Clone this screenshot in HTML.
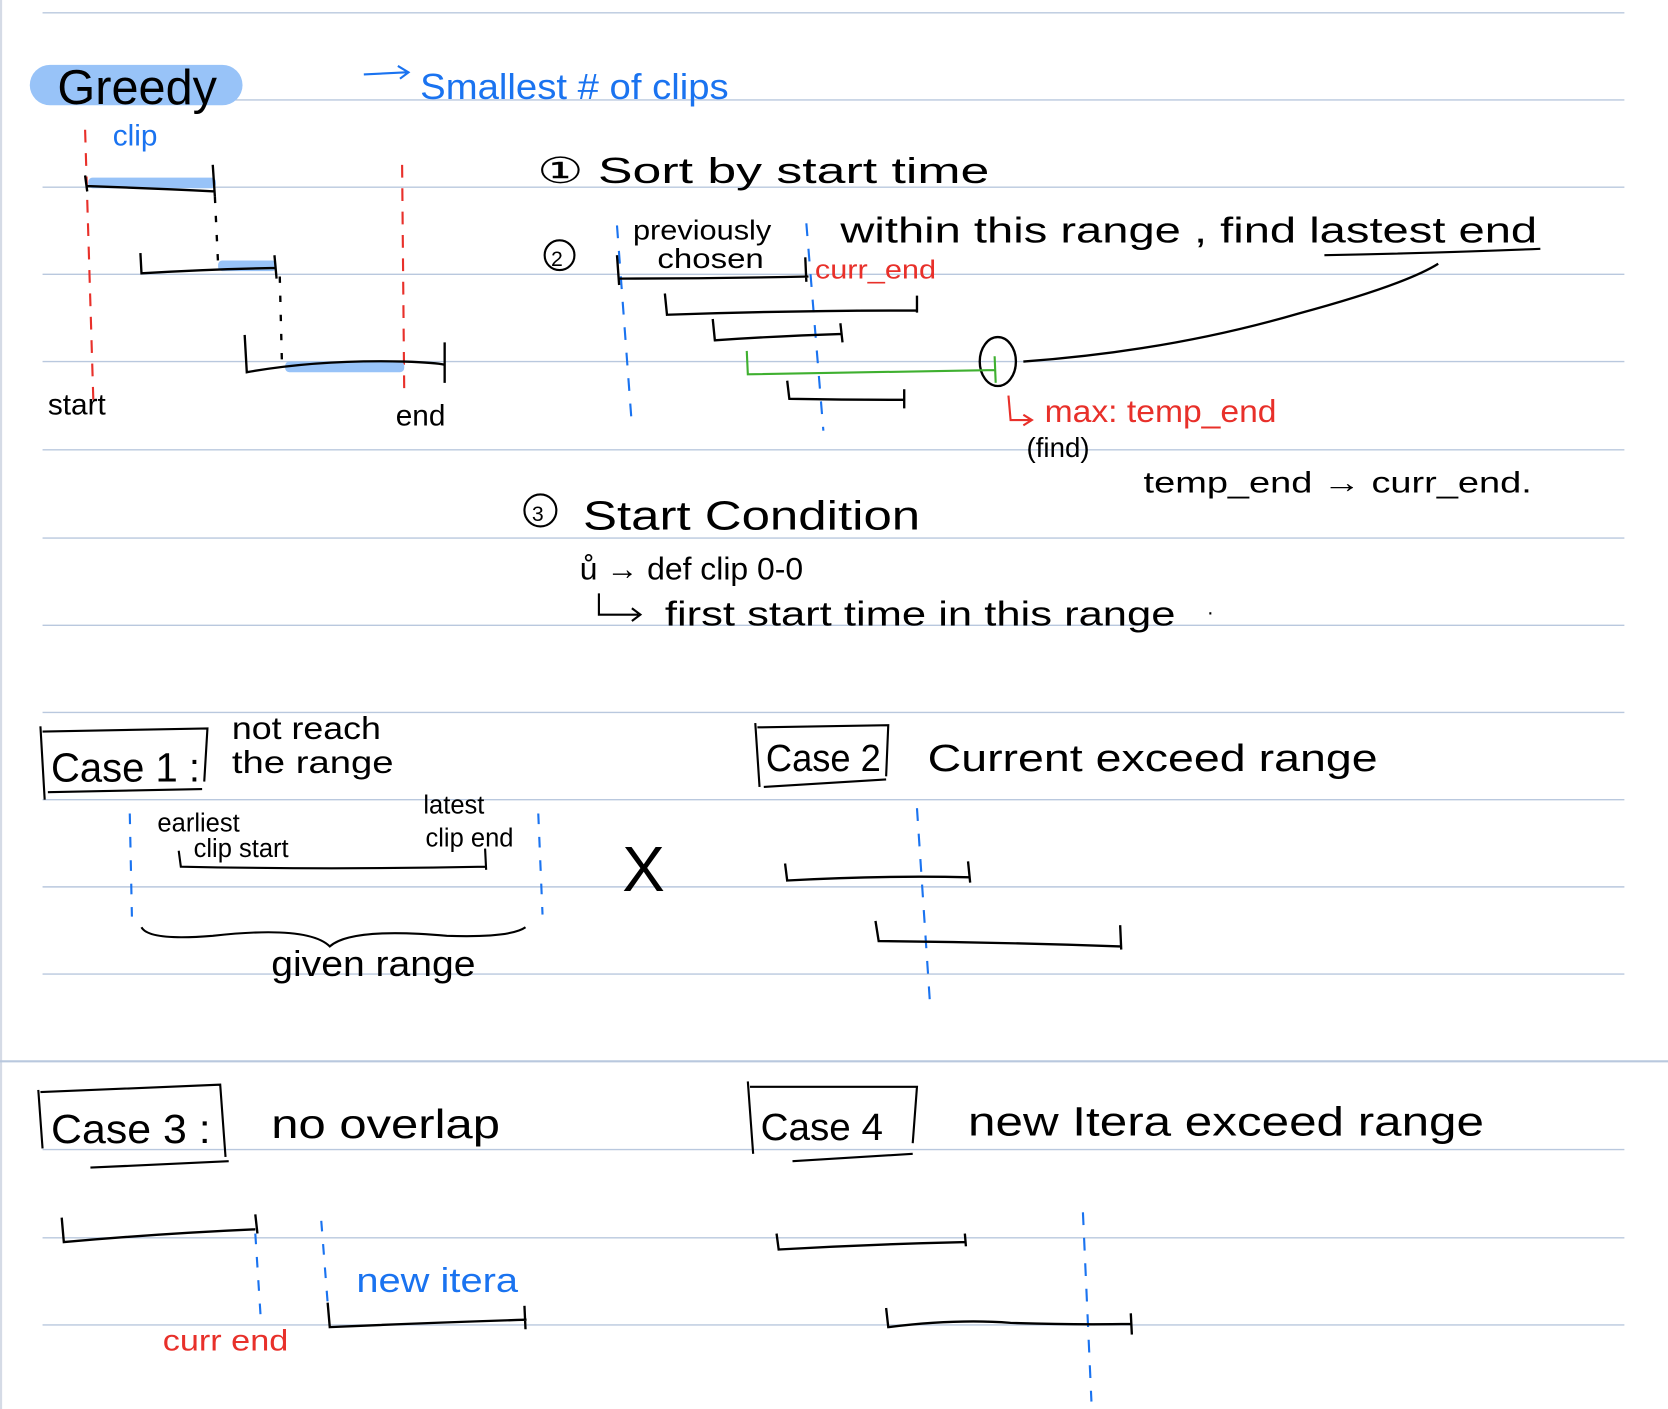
<!DOCTYPE html>
<html><head><meta charset="utf-8"><style>
html,body{margin:0;padding:0;background:#fff;}
svg{display:block;}
text{font-family:"Liberation Sans",sans-serif;}
</style></head><body>
<svg width="1668" height="1409" viewBox="0 0 1568 1325" preserveAspectRatio="none" xmlns="http://www.w3.org/2000/svg">
<rect width="1568" height="1325" fill="#fff"/>
<line x1="1" y1="0" x2="1" y2="1325" stroke="#d5dbe6" stroke-width="2"/>
<g stroke="#b9c8de" stroke-width="1.3">
<line x1="40" y1="12" x2="1527" y2="12"/><line x1="40" y1="94" x2="1527" y2="94"/>
<line x1="40" y1="176" x2="1527" y2="176"/><line x1="40" y1="258" x2="1527" y2="258"/>
<line x1="40" y1="340" x2="1527" y2="340"/><line x1="40" y1="423" x2="1527" y2="423"/>
<line x1="40" y1="506" x2="1527" y2="506"/><line x1="40" y1="588" x2="1527" y2="588"/>
<line x1="40" y1="670" x2="1527" y2="670"/><line x1="40" y1="752" x2="1527" y2="752"/>
<line x1="40" y1="834" x2="1527" y2="834"/><line x1="40" y1="916" x2="1527" y2="916"/>
<line x1="0" y1="998" x2="1568" y2="998" stroke-width="2"/>
<line x1="40" y1="1081" x2="1527" y2="1081"/><line x1="40" y1="1164" x2="1527" y2="1164"/>
<line x1="40" y1="1246" x2="1527" y2="1246"/>
</g>
<rect x="28" y="61" width="200" height="38" rx="19" fill="#98c3f8"/>
<text x="54" y="98" font-size="46" fill="#000" textLength="150" lengthAdjust="spacingAndGlyphs">Greedy</text>
<path d="M342 70 L382 68 M374 62 L384 68 L376 74" stroke="#1a73f0" stroke-width="2" fill="none"/>
<text x="395" y="93" font-size="34" fill="#1a73f0" textLength="290" lengthAdjust="spacingAndGlyphs">Smallest # of clips</text>
<text x="106" y="137" font-size="28" fill="#1a73f0">clip</text>
<g stroke="#e8302a" stroke-width="2" stroke-dasharray="12,10" fill="none">
<line x1="80" y1="122" x2="88" y2="385"/>
<line x1="378" y1="155" x2="380" y2="370"/>
</g>
<g fill="#98c3f8">
<rect x="83" y="167" width="120" height="10" rx="4"/>
<rect x="205" y="245" width="55" height="10" rx="4"/>
<rect x="268" y="340" width="112" height="10" rx="4"/>
</g>
<g stroke="#000" stroke-width="2.2" fill="none">
<path d="M80 165 L82 180 M82 175 Q140 177 202 180 M200 155 L202 185"/>
<path d="M132 238 L133 257 Q200 253 260 252 M258 240 L260 262"/>
<path d="M230 315 L232 350 Q300 338 380 340 Q410 341 418 343 M418 322 L418 360"/>
<path d="M202 185 L205 248 M263 260 L265 340" stroke-dasharray="6,12"/>
</g>
<text x="45" y="390" font-size="28">start</text>
<text x="372" y="400" font-size="28">end</text>
<text x="505" y="172" font-size="34" textLength="425" lengthAdjust="spacingAndGlyphs">① Sort by start time</text>
<circle cx="526" cy="240" r="14" stroke="#000" stroke-width="2" fill="none"/>
<text x="518" y="250" font-size="20">2</text>
<text x="595" y="225" font-size="26" textLength="130" lengthAdjust="spacingAndGlyphs">previously</text>
<text x="618" y="252" font-size="26" textLength="100" lengthAdjust="spacingAndGlyphs">chosen</text>
<text x="790" y="228" font-size="34" textLength="655" lengthAdjust="spacingAndGlyphs">within this range , find lastest end</text>
<path d="M1245 240 Q1350 238 1448 234" stroke="#000" stroke-width="2" fill="none"/>
<text x="766" y="262" font-size="24" fill="#e8302a" textLength="114" lengthAdjust="spacingAndGlyphs">curr_end</text>
<g stroke="#1a73f0" stroke-width="2" stroke-dasharray="12,12" fill="none">
<line x1="580" y1="212" x2="594" y2="400"/>
<line x1="758" y1="210" x2="774" y2="405"/>
</g>
<g stroke="#000" stroke-width="2.2" fill="none">
<path d="M580 240 L582 268 M582 262 Q670 262 760 260 M757 242 L758 265"/>
<path d="M625 276 L627 296 Q740 292 862 292 M862 278 L862 294"/>
<path d="M670 300 L672 320 Q730 316 792 314 M790 304 L792 322"/>
<path d="M740 358 L742 375 Q800 376 850 376 M850 366 L850 384"/>
<ellipse cx="938" cy="340" rx="17" ry="23"/>
<path d="M962 340 Q1100 330 1220 295 Q1320 268 1352 248"/>
</g>
<path d="M702 330 L703 352 Q820 350 935 348 M935 335 L936 360" stroke="#3fb030" stroke-width="2" fill="none"/>
<path d="M948 372 L950 395 L968 395 M962 390 L970 395 L962 400" stroke="#e8302a" stroke-width="2" fill="none"/>
<text x="982" y="397" font-size="30" fill="#e8302a" textLength="218" lengthAdjust="spacingAndGlyphs">max: temp_end</text>
<text x="965" y="430" font-size="26">(find)</text>
<text x="1075" y="463" font-size="28" textLength="365" lengthAdjust="spacingAndGlyphs">temp_end → curr_end.</text>
<circle cx="508" cy="480" r="15" stroke="#000" stroke-width="2" fill="none"/>
<text x="500" y="490" font-size="20">3</text>
<text x="548" y="498" font-size="38" textLength="317" lengthAdjust="spacingAndGlyphs">Start Condition</text>
<text x="545" y="545" font-size="30">ů → def clip 0-0</text>
<path d="M563 558 L563 578 L600 578 M594 572 L602 578 L594 584" stroke="#000" stroke-width="2" fill="none"/>
<text x="625" y="588" font-size="32" textLength="480" lengthAdjust="spacingAndGlyphs">first start time in this range</text>
<text x="1135" y="578" font-size="20">.</text>
<path d="M38 683 L42 752 M40 688 L195 685 L192 735 M45 745 L190 742" stroke="#000" stroke-width="2" fill="none"/>
<text x="48" y="735" font-size="38" textLength="140" lengthAdjust="spacingAndGlyphs">Case 1 :</text>
<text x="218" y="695" font-size="30" textLength="140" lengthAdjust="spacingAndGlyphs">not reach</text>
<text x="218" y="727" font-size="30" textLength="152" lengthAdjust="spacingAndGlyphs">the range</text>
<text x="148" y="782" font-size="24">earliest</text>
<text x="182" y="806" font-size="24">clip start</text>
<text x="398" y="765" font-size="24">latest</text>
<text x="400" y="796" font-size="24">clip end</text>
<g stroke="#1a73f0" stroke-width="2" stroke-dasharray="10,12" fill="none">
<line x1="122" y1="765" x2="124" y2="862"/><line x1="506" y1="765" x2="510" y2="860"/>
</g>
<path d="M168 800 L170 815 Q310 818 456 815 M456 798 L457 818" stroke="#000" stroke-width="2" fill="none"/>
<path d="M133 872 Q140 885 200 880 Q290 870 310 890 Q330 872 420 880 Q480 882 494 872" stroke="#000" stroke-width="2" fill="none"/>
<text x="255" y="918" font-size="34" textLength="192" lengthAdjust="spacingAndGlyphs">given range</text>
<text x="585" y="838" font-size="60">X</text>
<path d="M710 680 L714 740 M712 684 L835 682 L833 730 M718 740 L833 733" stroke="#000" stroke-width="2" fill="none"/>
<text x="720" y="725" font-size="36" textLength="108" lengthAdjust="spacingAndGlyphs">Case 2</text>
<text x="872" y="725" font-size="36" textLength="423" lengthAdjust="spacingAndGlyphs">Current  exceed  range</text>
<line x1="862" y1="760" x2="874" y2="940" stroke="#1a73f0" stroke-width="2" stroke-dasharray="12,12"/>
<g stroke="#000" stroke-width="2.2" fill="none">
<path d="M738 812 L740 828 Q830 823 912 825 M910 810 L912 830"/>
<path d="M823 866 L826 885 Q940 886 1053 890 M1053 870 L1054 893"/>
</g>
<path d="M36 1025 L40 1080 M38 1027 L207 1020 L212 1088 M85 1098 L215 1092" stroke="#000" stroke-width="2" fill="none"/>
<text x="48" y="1075" font-size="38" textLength="150" lengthAdjust="spacingAndGlyphs">Case 3 :</text>
<text x="255" y="1070" font-size="38" textLength="215" lengthAdjust="spacingAndGlyphs">no overlap</text>
<g stroke="#000" stroke-width="2.2" fill="none">
<path d="M58 1145 L60 1168 Q150 1160 240 1156 M240 1142 L242 1160"/>
<path d="M308 1225 L310 1248 Q400 1244 495 1241 M493 1228 L494 1250"/>
</g>
<g stroke="#1a73f0" stroke-width="2" stroke-dasharray="10,12" fill="none">
<line x1="240" y1="1160" x2="245" y2="1238"/><line x1="302" y1="1148" x2="308" y2="1225"/>
</g>
<text x="335" y="1215" font-size="32" fill="#1a73f0" textLength="152" lengthAdjust="spacingAndGlyphs">new itera</text>
<text x="153" y="1270" font-size="28" fill="#e8302a" textLength="118" lengthAdjust="spacingAndGlyphs">curr end</text>
<path d="M703 1017 L708 1085 M705 1022 L862 1022 L858 1075 M745 1092 L858 1085" stroke="#000" stroke-width="2" fill="none"/>
<text x="715" y="1072" font-size="36" textLength="115" lengthAdjust="spacingAndGlyphs">Case 4</text>
<text x="910" y="1068" font-size="38" textLength="485" lengthAdjust="spacingAndGlyphs">new  Itera exceed range</text>
<line x1="1018" y1="1140" x2="1026" y2="1318" stroke="#1a73f0" stroke-width="2" stroke-dasharray="12,12"/>
<g stroke="#000" stroke-width="2.2" fill="none">
<path d="M730 1160 L732 1175 Q820 1170 908 1168 M907 1160 L908 1172"/>
<path d="M833 1230 L835 1248 Q900 1240 950 1244 Q1010 1246 1063 1245 M1063 1235 L1064 1255"/>
</g>
</svg>
</body></html>
